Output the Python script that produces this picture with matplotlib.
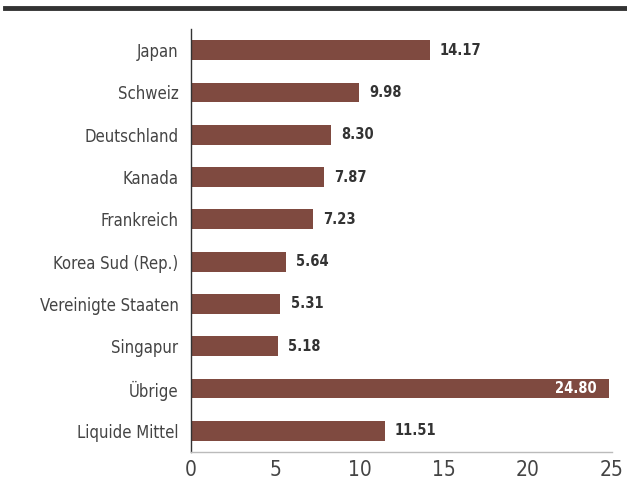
import matplotlib.pyplot as plt

names = ['Japan', 'Schweiz', 'Deutschland', 'Kanada', 'Frankreich',
         'Korea Sud (Rep.)', 'Vereinigte Staaten', 'Singapur', 'Übrige',
         'Liquide Mittel']
values = [14.17, 9.98, 8.30, 7.87, 7.23, 5.64, 5.31, 5.18, 24.80, 11.51]
value_labels = ['14.17', '9.98', '8.30', '7.87', '7.23', '5.64', '5.31',
                '5.18', '24.80', '11.51']
xticks = [0, 5, 10, 15, 20, 25]

plt.rcParams['font.family'] = ['DejaVu Sans']
plt.rcParams['font.stretch'] = 'condensed'

fig = plt.figure(figsize=(6.27, 4.91), dpi=100)
ax = fig.add_axes([191 / 627, 39 / 491, 421 / 627, 423 / 491])

bar_color = '#7f4a40'
ypos = list(range(len(names)))
ax.barh(ypos, values, height=0.47, color=bar_color)

for y, v, lab in zip(ypos, values, value_labels):
    if v > 20:
        ax.text(v - 0.7, y, lab, ha='right', va='center', color='white',
                fontsize=10.5, fontweight='bold')
    else:
        ax.text(v + 0.6, y, lab, ha='left', va='center', color='#333333',
                fontsize=10.5, fontweight='bold')

ax.set_xlim(0, 25)
ax.set_ylim(9.5, -0.5)
ax.set_yticks(ypos)
ax.set_yticklabels(names)
ax.set_xticks(xticks)
ax.tick_params(axis='both', length=0, labelsize=15, colors='#444444')
ax.tick_params(axis='y', pad=9, labelsize=12)
ax.tick_params(axis='x', pad=6)

for s in ['top', 'right']:
    ax.spines[s].set_visible(False)
ax.spines['left'].set_color('#333333')
ax.spines['left'].set_linewidth(1.0)
ax.spines['bottom'].set_color('#bbbbbb')
ax.spines['bottom'].set_linewidth(1.0)

# thick rule across the top
fig.add_artist(plt.Line2D([5 / 627, 1.0], [1 - 8 / 491, 1 - 8 / 491],
                          color='#333333', linewidth=3.5,
                          transform=fig.transFigure))

fig.savefig('out.png', dpi=100)
